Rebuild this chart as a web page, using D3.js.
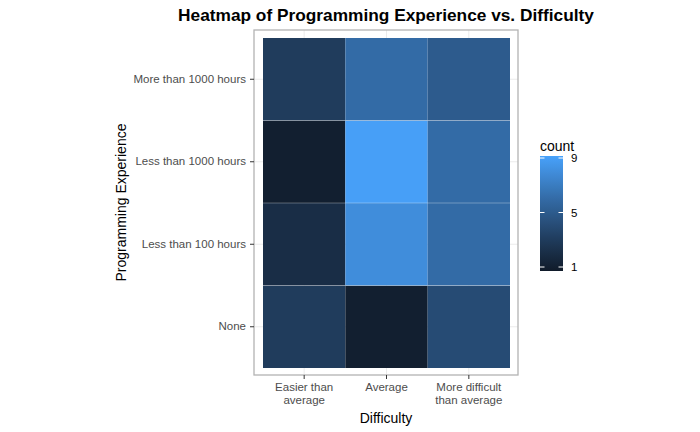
<!DOCTYPE html>
<html><head><meta charset="utf-8">
<script src="https://cdn.jsdelivr.net/npm/d3@7"></script>
<style>body{margin:0;background:#fff;} text{font-family:"Liberation Sans",Arial,sans-serif;}</style>
</head><body>
<svg id="c" width="700" height="432"></svg>
<script>
const difficulty = ["Easier than average","Average","More difficult than average"];
const difficultyLabels = ["Easier than\naverage","Average","More difficult\nthan average"];
const experience = ["None","Less than 100 hours","Less than 1000 hours","More than 1000 hours"];
// counts per difficulty, ordered as experience
const countEasier = [3,2,1,3];
const countAverage = [1,8,9,6];
const countHarder = [4,6,6,5];
const legendTicks = [1,5,9];

const seriesByDifficulty = [countEasier,countAverage,countHarder];
const cells = [];
difficulty.forEach((d,i)=>experience.forEach((e,j)=>cells.push({d, e, v: seriesByDifficulty[i][j]})));

const svg = d3.select("#c");
const panel = {l:254, r:518, t:30, b:375};
const tiles = {l:263, r:510, t:38, b:368};

const x = d3.scaleBand().domain(difficulty).range([tiles.l, tiles.r]).padding(0);
const y = d3.scaleBand().domain(experience).range([tiles.b, tiles.t]).padding(0);
const color = d3.scaleLinear().domain([1,9]).range(["#121f30","#479ff7"]).interpolate(d3.interpolateLab);

// panel background + grid
svg.append("rect").attr("x",panel.l).attr("y",panel.t).attr("width",panel.r-panel.l).attr("height",panel.b-panel.t).attr("fill","#fff");
const g = svg.append("g");
difficulty.forEach(d=>{
  const cx = x(d)+x.bandwidth()/2;
  g.append("line").attr("x1",cx).attr("x2",cx).attr("y1",panel.t).attr("y2",panel.b).attr("stroke","#ebebeb").attr("stroke-width",1);
});
experience.forEach(e=>{
  const cy = y(e)+y.bandwidth()/2;
  g.append("line").attr("y1",cy).attr("y2",cy).attr("x1",panel.l).attr("x2",panel.r).attr("stroke","#ebebeb").attr("stroke-width",1);
});

// tiles
svg.append("g").selectAll("rect").data(cells).join("rect")
  .attr("x",c=>x(c.d)).attr("y",c=>y(c.e))
  .attr("width",x.bandwidth()).attr("height",y.bandwidth())
  .attr("fill",c=>color(c.v));
// faint row seams
experience.slice(1).forEach(e=>{
  const yy = y(e)+y.bandwidth();
  svg.append("line").attr("x1",tiles.l).attr("x2",tiles.r).attr("y1",yy).attr("y2",yy)
    .attr("stroke","#fff").attr("stroke-opacity",0.3).attr("stroke-width",1);
});

// panel border
svg.append("rect").attr("x",panel.l).attr("y",panel.t).attr("width",panel.r-panel.l).attr("height",panel.b-panel.t)
  .attr("fill","none").attr("stroke","#b3b3b3").attr("stroke-width",1.3);

// axes
const xAxis = svg.append("g").attr("transform",`translate(0,${panel.b})`)
  .call(d3.axisBottom(x).tickSize(4).tickPadding(4).tickFormat(()=>""));
xAxis.select(".domain").remove();
xAxis.selectAll(".tick line").attr("stroke","#333").attr("stroke-width",1);
xAxis.selectAll(".tick text").remove();
difficulty.forEach((d,i)=>{
  const t = svg.append("text").attr("x",x(d)+x.bandwidth()/2).attr("y",391)
    .attr("text-anchor","middle").attr("font-size",11.5).attr("fill","#4d4d4d");
  difficultyLabels[i].split("\n").forEach((s,k)=>t.append("tspan").attr("x",x(d)+x.bandwidth()/2).attr("dy",k?13:0).text(s));
});

const yAxis = svg.append("g").attr("transform",`translate(${panel.l},0)`)
  .call(d3.axisLeft(y).tickSize(4).tickPadding(4));
yAxis.select(".domain").remove();
yAxis.selectAll(".tick line").attr("stroke","#333").attr("stroke-width",1);
yAxis.selectAll(".tick text").attr("font-size",11.5).attr("fill","#4d4d4d").attr("font-family","Liberation Sans, Arial, sans-serif");

// titles
svg.append("text").attr("x",(panel.l+panel.r)/2).attr("y",21).attr("text-anchor","middle")
  .attr("font-size",17.3).attr("font-weight","bold").attr("fill","#000").text("Heatmap of Programming Experience vs. Difficulty");
svg.append("text").attr("x",(panel.l+panel.r)/2).attr("y",423).attr("text-anchor","middle")
  .attr("font-size",14).attr("fill","#000").text("Difficulty");
svg.append("text").attr("transform",`translate(126,${(panel.t+panel.b)/2}) rotate(-90)`).attr("text-anchor","middle")
  .attr("font-size",14).attr("fill","#000").text("Programming Experience");

// legend
const ly = d3.scaleLinear().domain([1,9]).range([267,158]);
const barTop = 156, barBot = 271, barL = 540, barW = 23;
const defs = svg.append("defs");
const grad = defs.append("linearGradient").attr("id","lg").attr("x1",0).attr("x2",0).attr("y1",1).attr("y2",0);
const vLo = ly.invert(barBot), vHi = ly.invert(barTop);
d3.range(0,21).forEach(i=>{
  const v = vLo + (vHi-vLo)*i/20;
  grad.append("stop").attr("offset",(i/20*100)+"%").attr("stop-color",color(v));
});
svg.append("rect").attr("x",barL).attr("y",barTop).attr("width",barW).attr("height",barBot-barTop).attr("fill","url(#lg)");
legendTicks.forEach(t=>{
  const yy = ly(t);
  svg.append("line").attr("x1",barL).attr("x2",barL+4.5).attr("y1",yy).attr("y2",yy).attr("stroke","#fff").attr("stroke-width",1);
  svg.append("line").attr("x1",barL+barW-4.5).attr("x2",barL+barW).attr("y1",yy).attr("y2",yy).attr("stroke","#fff").attr("stroke-width",1);
  svg.append("text").attr("x",barL+barW+8).attr("y",yy+4).attr("font-size",11.5).attr("fill","#000").text(t);
});
svg.append("text").attr("x",barL).attr("y",151).attr("font-size",14).attr("fill","#000").text("count");
</script>
</body></html>
